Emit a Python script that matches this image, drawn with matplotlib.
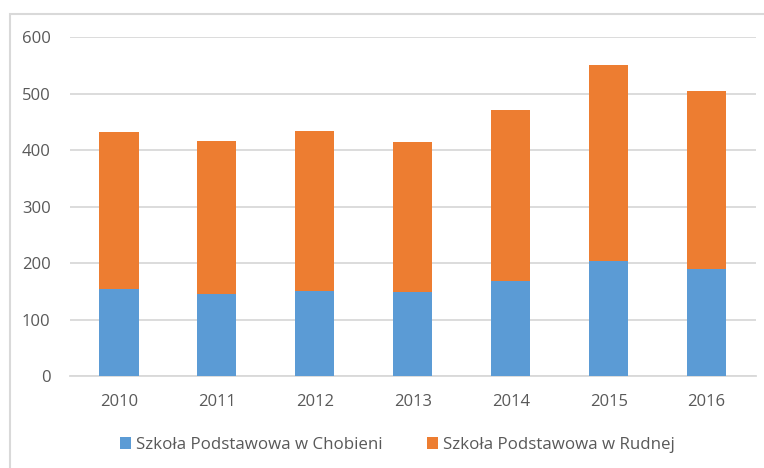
import numpy as np
import matplotlib.pyplot as plt
from matplotlib.patches import Rectangle

# data
years = ['2010', '2011', '2012', '2013', '2014', '2015', '2016']
chobienia = [154, 146, 151, 149, 168, 204, 190]
rudna = [279, 270, 283, 265, 303, 348, 315]
labels = ['Szkoła Podstawowa w Chobieni', 'Szkoła Podstawowa w Rudnej']

plt.rcParams['font.family'] = ['Open Sans', 'DejaVu Sans']

fig = plt.figure(figsize=(7.64, 4.68), dpi=100)
ax = fig.add_axes([0.0916, 0.196, 0.8974, 0.724])

x = np.arange(len(years))
b1 = ax.bar(x, chobienia, width=0.4, color='#5b9bd5', label=labels[0], zorder=3)
b2 = ax.bar(x, rudna, width=0.4, bottom=chobienia, color='#ed7d31', label=labels[1], zorder=3)

ax.set_xlim(-0.5, 6.5)
ax.set_ylim(0, 600)
ax.set_yticks(range(0, 601, 100))
ax.set_xticks(x)
ax.set_xticklabels(years)
ax.yaxis.grid(True, color='#d9d9d9', linewidth=1.3, zorder=0)
for s in ['top', 'right', 'left']:
    ax.spines[s].set_visible(False)
ax.spines['bottom'].set_color('#d9d9d9')
ax.spines['bottom'].set_linewidth(1.3)
ax.tick_params(axis='both', length=0, labelsize=12, colors='#595959')
ax.tick_params(axis='y', pad=14)
ax.tick_params(axis='x', pad=13)

# outer chart border
fig.patches.append(Rectangle((10 / 764, -0.1), 1.1, (468 - 14) / 468 + 0.1,
                             transform=fig.transFigure, fill=False,
                             edgecolor='#d9d9d9', linewidth=1.5))

leg = fig.legend(handles=[b1, b2], loc='center', bbox_to_anchor=(0.52, 0.049),
                 ncol=2, frameon=False, fontsize=12.2, handlelength=0.65,
                 handleheight=0.65, handletextpad=0.3, columnspacing=2.6)
for t in leg.get_texts():
    t.set_color('#595959')

plt.savefig('out.png', dpi=100)
